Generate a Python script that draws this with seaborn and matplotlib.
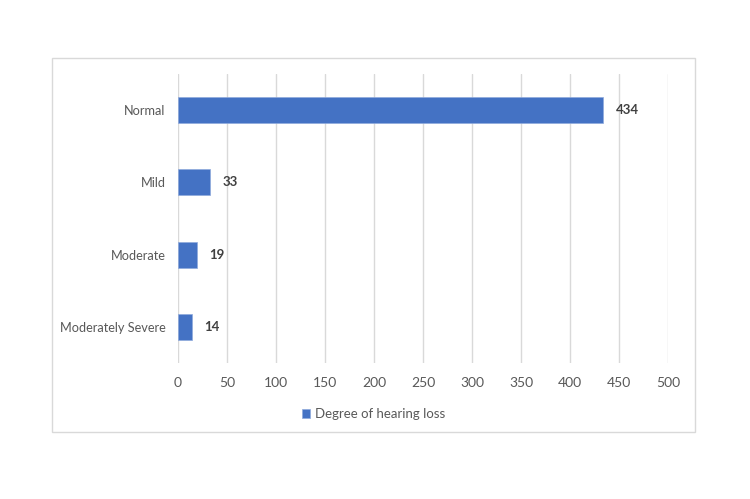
import matplotlib
matplotlib.use('Agg')
import matplotlib.pyplot as plt
from matplotlib.patches import Rectangle
import pandas as pd
import seaborn as sns

categories = ['Normal', 'Mild', 'Moderate', 'Moderately Severe']
counts = [434, 33, 19, 14]
series_name = 'Degree of hearing loss'
x_ticks = [0, 50, 100, 150, 200, 250, 300, 350, 400, 450, 500]

bar_color = '#4472C4'
text_color = '#595959'

sns.set_theme(style='white')
plt.rcParams['font.family'] = ['Lato', 'DejaVu Sans']

df = pd.DataFrame({'category': categories, 'count': counts})

fig = plt.figure(figsize=(7.5, 4.99), dpi=100)
# outer chart frame
fig.patches.append(Rectangle((52 / 750, 1 - 432 / 499), 643 / 750, 374 / 499,
                             transform=fig.transFigure, fill=False,
                             edgecolor='#D9D9D9', linewidth=1))

ax = fig.add_axes([178 / 750, 1 - 363 / 499, 490 / 750, 289 / 499])
sns.barplot(data=df, x='count', y='category', color=bar_color, saturation=1,
            width=0.36, orient='h', ax=ax, label=series_name,
            edgecolor='#8FAADC', linewidth=0.5, zorder=3)

ax.set_xlim(0, 500)
ax.set_ylim(3.5, -0.5)
ax.set_xticks(x_ticks)
ax.xaxis.grid(True, color='#D9D9D9', linewidth=1, zorder=0)
ax.set_axisbelow(True)
for s in ax.spines.values():
    s.set_visible(False)
ax.set_xlabel('')
ax.set_ylabel('')
ax.tick_params(axis='both', length=0, labelsize=10, colors=text_color, pad=10)
ax.tick_params(axis='y', labelsize=9.2, pad=9)

for c in ax.containers:
    ax.bar_label(c, padding=9, fontsize=9.5, fontweight='bold', color='#404040')

ax.legend(loc='upper center', bbox_to_anchor=(0.40, -0.115), frameon=False,
          fontsize=9.5, handlelength=0.6, handleheight=0.6, handletextpad=0.4,
          labelcolor=text_color)

fig.savefig('out.png', dpi=100)
